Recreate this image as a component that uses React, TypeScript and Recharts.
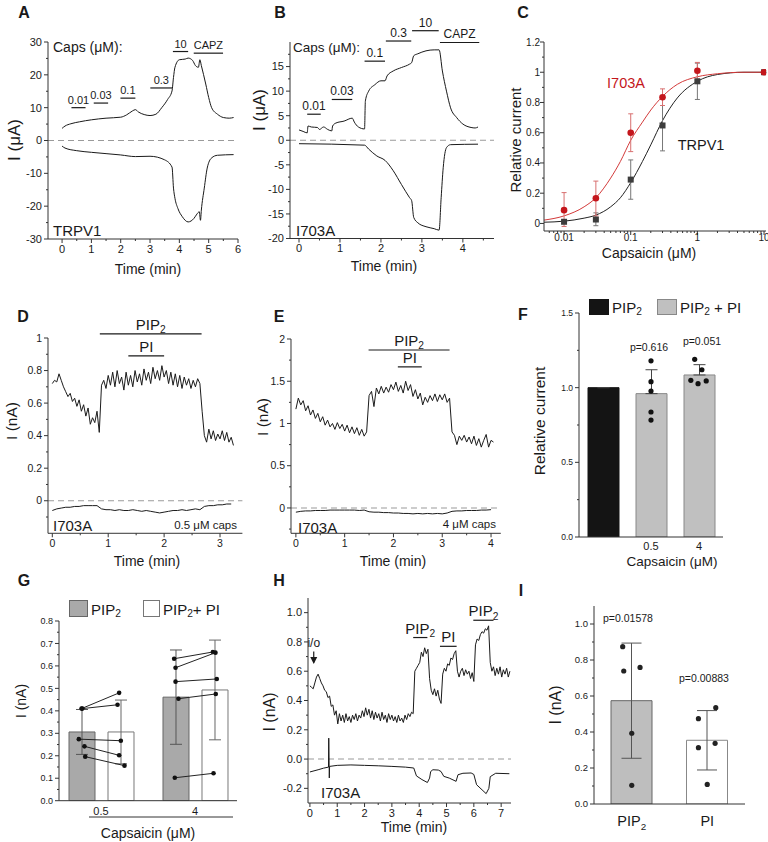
import React from "react";
import {
  Bar,
  Cell,
  ComposedChart,
  ErrorBar,
  Line,
  LineChart,
  ReferenceDot,
  ReferenceLine,
  Scatter,
  XAxis,
  YAxis,
} from "recharts";

const FONT = "'Liberation Sans', Arial, Helvetica, sans-serif";
const INK = "#1a1a1a";
const AXIS = "#333";
const RED = "#c4161c";

// ---------- A: TRPV1, caps dose steps (t min, I µA)
const aUpper: [number, number][] = [
  [0, 3.7], [0.1, 4.4], [0.3, 5.1], [0.6, 5.7], [1.0, 6.3], [1.5, 6.8], [2.0, 7.1], [2.2, 7.8],
  [2.4, 9.0], [2.5, 9.4], [2.6, 8.7], [2.8, 7.9], [3.0, 7.6], [3.2, 8.0], [3.4, 10.0], [3.6, 12.5],
  [3.75, 15.1], [3.8, 19.2], [3.85, 22.3], [4.0, 24.6], [4.2, 24.8], [4.3, 25.1], [4.45, 24.4],
  [4.55, 22.8], [4.65, 22.3], [4.7, 24.6], [4.75, 22.8], [4.9, 17.2], [5.0, 13.1], [5.1, 10.0],
  [5.3, 8.0], [5.5, 7.0], [5.7, 6.8], [5.85, 7.0],
];
const aLower: [number, number][] = [
  [0, -1.7], [0.1, -2.3], [0.5, -3.1], [1.0, -3.6], [1.5, -4.0], [2.0, -4.4], [2.5, -4.9], [3.0, -4.8],
  [3.5, -5.9], [3.75, -8.1], [3.8, -14.5], [3.85, -17.6], [3.95, -20.7], [4.1, -23.2], [4.3, -24.8],
  [4.5, -23.7], [4.6, -22.4], [4.68, -21.7], [4.72, -24.3], [4.75, -21.2], [4.85, -14.5], [4.95, -8.4],
  [5.1, -5.3], [5.3, -4.5], [5.85, -4.3],
];
// label, start, end, level
const aApps: [string, number, number, number][] = [
  ["0.01", 0.32, 0.8, 10.0], ["0.03", 1.08, 1.57, 11.4], ["0.1", 1.99, 2.5, 12.9],
  ["0.3", 3.01, 3.76, 16.0], ["10", 3.78, 4.3, 27.1], ["CAPZ", 4.49, 5.49, 26.6],
];

// ---------- B: I703A
const bUpper: [number, number][] = [
  [0, 2.1], [0.1, 1.8], [0.2, 1.5], [0.22, 2.9], [0.3, 2.7], [0.45, 2.6], [0.5, 2.2], [0.6, 2.7],
  [0.7, 2.2], [0.8, 1.9], [0.82, 2.9], [0.9, 3.5], [1.1, 3.9], [1.3, 4.5], [1.35, 3.7], [1.45, 2.7],
  [1.6, 2.3], [1.62, 8.0], [1.7, 10.0], [1.85, 11.3], [2.0, 12.1], [2.1, 12.1], [2.15, 13.1],
  [2.3, 14.1], [2.5, 14.8], [2.7, 15.5], [2.75, 15.8], [2.8, 17.2], [2.9, 17.6], [3.1, 18.2],
  [3.3, 18.4], [3.42, 18.4], [3.5, 14.1], [3.6, 10.0], [3.7, 6.6], [3.85, 4.6], [4.0, 3.3],
  [4.2, 2.6], [4.3, 2.5], [4.37, 2.7],
];
const bLower: [number, number][] = [
  [0, -0.7], [1.6, -1.0], [1.7, -1.8], [1.9, -3.2], [2.1, -4.1], [2.3, -6.2], [2.5, -9.0], [2.7, -11.7],
  [2.75, -12.3], [2.8, -15.7], [2.9, -16.8], [3.1, -17.6], [3.3, -18.0], [3.42, -18.3], [3.47, -11.7],
  [3.52, -5.6], [3.6, -1.5], [3.7, -0.9], [4.37, -0.8],
];
const bApps: [string, number, number, number][] = [
  ["0.01", 0.2, 0.53, 5.3], ["0.03", 0.8, 1.3, 8.3], ["0.1", 1.6, 2.1, 16.1],
  ["0.3", 2.12, 2.74, 20.2], ["10", 2.76, 3.41, 22.3], ["CAPZ", 3.44, 4.4, 19.9],
];

// ---------- C: dose-response
const cConc = [0.01, 0.03, 0.1, 0.3, 1, 10];
const cMutMean = [0.088, 0.167, 0.6, 0.835, 1.01, 1.0];
const cMutErr: [number, number][] = [[0.108, 0.116], [0.117, 0.113], [0.125, 0.125], [0.055, 0.055], [0.055, 0.055], [0.01, 0.01]];
const cWtMean = [0.011, 0.026, 0.29, 0.648, 0.94, 1.0];
const cWtErr: [number, number][] = [[0.01, 0.01], [0.041, 0.044], [0.13, 0.13], [0.168, 0.192], [0.12, 0.12], [0, 0]];
const cFitX = [0.005, 0.01, 0.02, 0.03, 0.05, 0.07, 0.1, 0.15, 0.2, 0.3, 0.5, 1, 2, 5, 10.7];
const cFitMut = [0.022, 0.05, 0.11, 0.17, 0.3, 0.41, 0.55, 0.67, 0.75, 0.84, 0.92, 0.97, 0.99, 1.0, 1.0];
const cFitWt = [0.008, 0.015, 0.035, 0.055, 0.11, 0.17, 0.27, 0.41, 0.52, 0.68, 0.83, 0.94, 0.985, 1.0, 1.0];

// ---------- D: 0.5 µM caps, sampled every 0.04 / 0.08 min
const D_STEP = 0.04;
const dUpper = [
  0.72, 0.74, 0.73, 0.78, 0.74, 0.7, 0.67, 0.64, 0.66, 0.61, 0.63, 0.58, 0.62, 0.55, 0.59, 0.52, 0.57, 0.47, 0.51, 0.48, 0.55, 0.42,
  0.71, 0.74, 0.69, 0.77, 0.71, 0.79, 0.7, 0.8, 0.72, 0.76, 0.68, 0.79, 0.71, 0.77, 0.7, 0.8, 0.73, 0.78, 0.71, 0.81,
  0.74, 0.79, 0.72, 0.82, 0.75, 0.8, 0.74, 0.83, 0.76, 0.8, 0.72, 0.79, 0.71, 0.78, 0.7, 0.77, 0.69, 0.76, 0.71, 0.75,
  0.69, 0.74, 0.7, 0.75, 0.72,
  0.55, 0.4, 0.36, 0.44, 0.38, 0.43, 0.37, 0.41, 0.38, 0.43, 0.37, 0.42, 0.36, 0.39, 0.34,
];
const D_STEP_LO = 0.08;
const dLower = [
  -0.06, -0.05, -0.045, -0.04, -0.04, -0.035, -0.035, -0.03, -0.03, -0.03, -0.03,
  -0.05, -0.055, -0.055, -0.06, -0.055, -0.06, -0.06, -0.055, -0.06, -0.065, -0.06, -0.065, -0.07, -0.075,
  -0.07, -0.065, -0.06, -0.06, -0.055, -0.06, -0.055, -0.05, -0.055,
  -0.035, -0.03, -0.03, -0.025, -0.025, -0.02, -0.02,
];
const dApps: [string, string, number, number, number][] = [
  ["PIP", "2", 0.85, 2.67, 1.025], ["PI", "", 1.36, 2.0, 0.89],
];

// ---------- E: 4 µM caps
const E_STEP = 0.05;
const eUpper = [
  1.17, 1.3, 1.22, 1.27, 1.15, 1.21, 1.1, 1.16, 1.06, 1.12, 1.02, 1.08, 0.98, 1.04, 0.96, 1.0, 0.93, 1.01, 0.94, 0.99,
  0.91, 0.98, 0.89, 0.96, 0.88, 0.95, 0.86, 0.93, 0.85, 0.9,
  1.33, 1.38, 1.2, 1.42, 1.35, 1.44, 1.36, 1.43, 1.37, 1.46, 1.4, 1.49, 1.38, 1.45, 1.36, 1.5, 1.39, 1.46, 1.32, 1.4,
  1.29, 1.36, 1.22, 1.31, 1.25, 1.33, 1.27, 1.35, 1.26, 1.34, 1.28, 1.35, 1.25, 1.3,
  0.9, 0.86, 0.75, 0.85, 0.8, 0.86, 0.78, 0.84, 0.76, 0.85, 0.74, 0.82, 0.72, 0.8, 0.87, 0.72, 0.8, 0.78,
];
const E_STEP_LO = 0.1;
const eLower = [
  -0.05, -0.04, -0.035, -0.035, -0.03, -0.03, -0.03, -0.025, -0.025, -0.025, -0.025, -0.025, -0.025, -0.03, -0.025,
  -0.045, -0.05, -0.05, -0.055, -0.055, -0.06, -0.06, -0.065, -0.065, -0.07, -0.065, -0.07, -0.065, -0.07, -0.065, -0.07, -0.06,
  -0.04, -0.035, -0.035, -0.03, -0.03, -0.03, -0.025, -0.025, -0.02,
];
const eApps: [string, string, number, number, number][] = [
  ["PIP", "2", 1.49, 3.15, 1.87], ["PI", "", 2.09, 2.58, 1.67],
];

// ---------- F: relative current, PIP2 vs PIP2 + PI
const fCats = ["", "0.5", "4"];
const fMeans = [1.0, 0.96, 1.085];
const fErrUp = [0, 0.16, 0.069];
const fDots05 = [1.18, 1.04, 0.977, 0.837, 0.783];
const fDots05Dx = [0, 0, 0, 0, 0];
const fDots4 = [1.19, 1.12, 1.049, 1.027, 1.045];
const fDots4Dx = [-0.09, 0.06, -0.17, -0.02, 0.15];

// ---------- G: paired PIP2 -> PIP2 + PI
const gCats = ["0.5", "4"];
const gPip2 = [0.306, 0.461];
const gPip2Err = [0.1, 0.21];
const gPip2Pi = [0.306, 0.493];
const gPip2PiErr = [0.142, 0.222];
const gBefore05 = [0.41, 0.41, 0.274, 0.242, 0.196];
const gAfter05 = [0.48, 0.427, 0.267, 0.202, 0.156];
const gBefore4 = [0.632, 0.592, 0.53, 0.454, 0.102];
const gAfter4 = [0.662, 0.659, 0.542, 0.475, 0.122];
const gBeforeDx05 = [-0.207, -0.199, -0.236, -0.176, -0.168];
const gAfterDx05 = [0.193, 0.176, 0.211, 0.193, 0.25];
const gBeforeDx4 = [-0.222, -0.207, -0.207, -0.176, -0.215];
const gAfterDx4 = [0.19, 0.218, 0.232, 0.221, 0.197];

// ---------- H: i/o patch, sequential PIP2 / PI / PIP2
const H_STEP = 0.06;
const hUpper = [
  0.5, 0.49, 0.48, 0.52, 0.56, 0.58, 0.55, 0.52, 0.5, 0.47, 0.46, 0.42, 0.43, 0.36, 0.37, 0.3, 0.33, 0.24, 0.31, 0.26,
  0.3, 0.25, 0.31, 0.26, 0.29, 0.25, 0.3, 0.27, 0.31, 0.26, 0.3, 0.28, 0.33, 0.29, 0.35, 0.3, 0.34, 0.28, 0.33, 0.27,
  0.32, 0.28, 0.31, 0.26, 0.32, 0.27, 0.3, 0.25, 0.31, 0.27, 0.3, 0.26, 0.29, 0.25, 0.3, 0.26, 0.28, 0.25, 0.3, 0.27,
  0.31, 0.29, 0.32, 0.31, 0.6, 0.62, 0.64, 0.66, 0.73, 0.7, 0.76, 0.72, 0.75, 0.55, 0.47, 0.44, 0.48, 0.43, 0.47, 0.41,
  0.38, 0.58, 0.62, 0.6, 0.65, 0.64, 0.69, 0.68, 0.72, 0.74, 0.6, 0.56, 0.6, 0.62, 0.57, 0.61, 0.58, 0.6, 0.55, 0.59,
  0.53, 0.78, 0.82, 0.81, 0.85, 0.87, 0.86, 0.89, 0.88, 0.91, 0.66, 0.6, 0.63, 0.57, 0.62, 0.58, 0.63, 0.56, 0.61, 0.58,
  0.62, 0.56, 0.6,
];
const hLower: [number, number][] = [
  [0, -0.088], [0.3, -0.073], [0.5, -0.062], [0.68, -0.055], [0.69, 0.143], [0.71, -0.129], [0.72, -0.05],
  [1.0, -0.043], [1.5, -0.04], [2.0, -0.043], [2.5, -0.046], [3.0, -0.05], [3.5, -0.055], [3.8, -0.061],
  [3.9, -0.115], [4.1, -0.14], [4.3, -0.16], [4.38, -0.13], [4.42, -0.085], [4.5, -0.073], [4.7, -0.075],
  [4.8, -0.085], [4.9, -0.118], [5.1, -0.13], [5.35, -0.152], [5.42, -0.107], [5.6, -0.097], [5.9, -0.095],
  [6.0, -0.105], [6.1, -0.175], [6.3, -0.21], [6.45, -0.236], [6.55, -0.2], [6.6, -0.12], [6.8, -0.097], [7.3, -0.1],
];
const hApps: [string, string, number, number, number][] = [
  ["PIP", "2", 3.78, 4.3, 0.83], ["PI", "", 4.76, 5.37, 0.77], ["PIP", "2", 5.98, 6.72, 0.948],
];

// ---------- I: PIP2 vs PI
const iCats = ["PIP2", "PI"];
const iMeans = [0.574, 0.354];
const iErr = [0.32, 0.165];
const iDotsPip2 = [0.874, 0.739, 0.759, 0.393, 0.104];
const iDxPip2 = [-0.12, -0.106, 0.11, 0, 0];
const iDotsPi = [0.474, 0.535, 0.313, 0.337, 0.109];
const iDxPi = [-0.117, 0.113, -0.117, 0.104, 0];

// ---------- layout helpers
type Box = { x0: number; y0: number; x1: number; y1: number };
const PL = 60, PT = 40, PR = 20, PB = 50, YW = 50, XH = 30;

function frame(b: Box) {
  return {
    style: { position: "absolute", left: b.x0 - PL, top: b.y0 - PT } as React.CSSProperties,
    width: b.x1 - b.x0 + PL + PR,
    height: b.y1 - b.y0 + PT + PB,
    margin: { top: PT, right: PR, left: PL - YW, bottom: PB - XH },
  };
}

const near = (list: number[], v: number) => list.some((m) => Math.abs(m - v) < 1e-9);

function yTick(major: number[], fmt: (v: number) => string, fs: number, gap = 6) {
  return (p: any) => {
    const v = p.payload.value as number;
    const big = near(major, v);
    return (
      <g>
        <line x1={p.x} x2={p.x - (big ? 4 : 2)} y1={p.y} y2={p.y} stroke={AXIS} />
        {big && (
          <text x={p.x - gap} y={p.y} dy="0.35em" textAnchor="end" fontSize={fs} fontFamily={FONT} fill={INK}>
            {fmt(v)}
          </text>
        )}
      </g>
    );
  };
}

function xTick(major: number[], fmt: (v: number) => string, fs: number, gap = 5) {
  return (p: any) => {
    const v = p.payload.value as number;
    const big = near(major, v);
    return (
      <g>
        <line x1={p.x} x2={p.x} y1={p.y} y2={p.y + (big ? 4 : 2)} stroke={AXIS} />
        {big && (
          <text x={p.x} y={p.y + gap + fs * 0.8} textAnchor="middle" fontSize={fs} fontFamily={FONT} fill={INK}>
            {fmt(v)}
          </text>
        )}
      </g>
    );
  };
}

function catTick(fs: number, dy: number) {
  return (p: any) => {
    const s = String(p.payload.value);
    const sub = s.endsWith("2") && s.startsWith("PIP");
    return (
      <text x={p.x} y={p.y + dy} textAnchor="middle" fontSize={fs} fontFamily={FONT} fill={INK}>
        {sub ? "PIP" : s}
        {sub && <tspan fontSize={fs * 0.68} dy={fs * 0.25}>2</tspan>}
      </text>
    );
  };
}

function ann(text: string, sub = "", fs = 12) {
  return (p: any) => {
    const vb = p.viewBox || {};
    const cx = (vb.x ?? 0) + (vb.width ?? 0) / 2;
    return (
      <text x={cx} y={(vb.y ?? 0) - 4} textAnchor="middle" fontSize={fs} fontFamily={FONT} fill={INK}>
        {text}
        {sub && <tspan fontSize={fs * 0.68} dy={fs * 0.22}>{sub}</tspan>}
      </text>
    );
  };
}

const dot = (r: number, fill: string) => (p: any) => <circle cx={p.cx} cy={p.cy} r={r} fill={fill} />;
const square = (s: number, fill: string) => (p: any) => (
  <rect x={p.cx - s / 2} y={p.cy - s / 2} width={s} height={s} fill={fill} />
);

const pairs = (pts: [number, number][]) => pts.map(([t, v]) => ({ t, v }));
const sampled = (vals: number[], step: number) => vals.map((v, i) => ({ t: +(i * step).toFixed(3), v }));

const axisLine = { stroke: AXIS, strokeWidth: 1 };
const noTicks = { tickSize: 0, tickMargin: 0, tickLine: false, interval: 0 as const };

// ---------- trace panel (A, B, D, E, H)
interface TraceProps {
  box: Box;
  xDomain: [number, number];
  yDomain: [number, number];
  xTicks: number[];
  xMajor: number[];
  yTicks: number[];
  yMajor: number[];
  yFmt: (v: number) => string;
  fs: number;
  upper: { t: number; v: number }[];
  lower: { t: number; v: number }[];
  smooth?: boolean;
  children?: React.ReactNode;
}

function TracePanel(p: TraceProps) {
  const f = frame(p.box);
  return (
    <div style={f.style}>
      <LineChart width={f.width} height={f.height} margin={f.margin}>
        <XAxis
          type="number"
          dataKey="t"
          domain={p.xDomain}
          allowDataOverflow
          ticks={p.xTicks}
          height={XH}
          axisLine={axisLine}
          tick={xTick(p.xMajor, (v) => String(v), p.fs)}
          {...noTicks}
        />
        <YAxis
          type="number"
          domain={p.yDomain}
          allowDataOverflow
          ticks={p.yTicks}
          width={YW}
          axisLine={axisLine}
          tick={yTick(p.yMajor, p.yFmt, p.fs)}
          {...noTicks}
        />
        <ReferenceLine y={0} stroke="#9a9a9a" strokeDasharray="6 4" strokeWidth={1.1} />
        <Line data={p.upper} dataKey="v" type={p.smooth ? "monotone" : "linear"} dot={false} stroke={INK} strokeWidth={1} isAnimationActive={false} />
        <Line data={p.lower} dataKey="v" type={p.smooth ? "monotone" : "linear"} dot={false} stroke={INK} strokeWidth={1} isAnimationActive={false} />
        {p.children}
      </LineChart>
    </div>
  );
}

function appLines(apps: [string, number, number, number][], fs: number) {
  return apps.map(([lab, a, b, y], i) => (
    <ReferenceLine
      key={"ap" + i}
      segment={[{ x: a, y }, { x: b, y }]}
      stroke={INK}
      strokeWidth={1.2}
      ifOverflow="visible"
      label={ann(lab, "", fs)}
    />
  ));
}

function lipidLines(apps: [string, string, number, number, number][], fs: number) {
  return apps.map(([lab, sub, a, b, y], i) => (
    <ReferenceLine
      key={"lp" + i}
      segment={[{ x: a, y }, { x: b, y }]}
      stroke={INK}
      strokeWidth={1.2}
      ifOverflow="visible"
      label={ann(lab, sub, fs)}
    />
  ));
}

// ---------- C
function DosePanel() {
  const f = frame({ x0: 544, y0: 42.3, x1: 766, y1: 231.3 });
  const mut = cConc.map((x, i) => ({ x, y: cMutMean[i], err: cMutErr[i] }));
  const wt = cConc.map((x, i) => ({ x, y: cWtMean[i], err: cWtErr[i] }));
  const fitMut = cFitX.map((x, i) => ({ x, y: cFitMut[i] }));
  const fitWt = cFitX.map((x, i) => ({ x, y: cFitWt[i] }));
  const xt = [0.006, 0.007, 0.008, 0.009, 0.01, 0.02, 0.03, 0.04, 0.05, 0.06, 0.07, 0.08, 0.09, 0.1, 0.2, 0.3, 0.4, 0.5, 0.6, 0.7, 0.8, 0.9, 1, 2, 3, 4, 5, 6, 7, 8, 9, 10];
  const yt = [0, 0.1, 0.2, 0.3, 0.4, 0.5, 0.6, 0.7, 0.8, 0.9, 1, 1.1, 1.2];
  return (
    <div style={f.style}>
      <ComposedChart width={f.width} height={f.height} margin={f.margin}>
        <XAxis
          type="number"
          dataKey="x"
          scale="log"
          domain={[0.005, 10.7]}
          allowDataOverflow
          ticks={xt}
          height={XH}
          axisLine={axisLine}
          tick={xTick([0.01, 0.1, 1, 10], (v) => String(v), 10, 2)}
          {...noTicks}
        />
        <YAxis
          type="number"
          dataKey="y"
          domain={[-0.05, 1.2]}
          allowDataOverflow
          ticks={yt}
          width={YW}
          axisLine={axisLine}
          tick={yTick([0, 0.2, 0.4, 0.6, 0.8, 1, 1.2], (v) => String(v), 10, 4)}
          {...noTicks}
        />
        <Line data={fitWt} dataKey="y" type="monotone" dot={false} stroke="#222" strokeWidth={1} isAnimationActive={false} />
        <Line data={fitMut} dataKey="y" type="monotone" dot={false} stroke="#d33a3a" strokeWidth={1} isAnimationActive={false} />
        <Scatter data={wt} shape={square(6, "#3d3d3d")} isAnimationActive={false}>
          <ErrorBar dataKey="err" direction="y" width={2.5} stroke="#777" strokeWidth={1} />
        </Scatter>
        <Scatter data={mut} shape={dot(3.3, RED)} isAnimationActive={false}>
          <ErrorBar dataKey="err" direction="y" width={2.5} stroke="#d87070" strokeWidth={1} />
        </Scatter>
      </ComposedChart>
    </div>
  );
}

// ---------- F
function RelBarPanel() {
  const f = frame({ x0: 579, y0: 313, x1: 723, y1: 537 });
  const rows = fCats.map((cat, i) => ({ cat, v: fMeans[i], err: [0, fErrUp[i]] }));
  const d05 = fDots05.map((y, i) => ({ x: 1.5 + fDots05Dx[i], y }));
  const d4 = fDots4.map((y, i) => ({ x: 2.5 + fDots4Dx[i], y }));
  return (
    <div style={f.style}>
      <ComposedChart width={f.width} height={f.height} margin={f.margin} data={rows}>
        <XAxis xAxisId="c" dataKey="cat" type="category" height={XH} axisLine={axisLine} tick={catTick(11, 13)} {...noTicks} />
        <XAxis xAxisId="n" dataKey="x" type="number" domain={[0, 3]} allowDataOverflow hide />
        <YAxis
          dataKey="y"
          type="number"
          domain={[0, 1.5]}
          allowDataOverflow
          ticks={[0, 0.25, 0.5, 0.75, 1, 1.25, 1.5]}
          width={YW}
          axisLine={axisLine}
          tick={yTick([0, 0.5, 1, 1.5], (v) => v.toFixed(1), 8.5)}
          {...noTicks}
        />
        <Bar xAxisId="c" dataKey="v" barSize={31} stroke="#888" strokeWidth={1} isAnimationActive={false}>
          {rows.map((_, i) => (
            <Cell key={i} fill={i === 0 ? "#141414" : "#c0c0c0"} stroke={i === 0 ? "#141414" : "#888"} />
          ))}
          <ErrorBar dataKey="err" direction="y" width={6} stroke="#444" strokeWidth={1} />
        </Bar>
        <Scatter xAxisId="n" data={d05} shape={dot(2.6, "#111")} isAnimationActive={false} />
        <Scatter xAxisId="n" data={d4} shape={dot(2.6, "#111")} isAnimationActive={false} />
      </ComposedChart>
    </div>
  );
}

// ---------- G
function PairedPanel() {
  const f = frame({ x0: 59, y0: 621, x1: 237, y1: 800.7 });
  const rows = gCats.map((cat, i) => ({ cat, a: gPip2[i], ae: gPip2Err[i], b: gPip2Pi[i], be: gPip2PiErr[i] }));
  const links = [
    ...gBefore05.map((y, i) => [{ x: 0.5 + gBeforeDx05[i], y }, { x: 0.5 + gAfterDx05[i], y: gAfter05[i] }]),
    ...gBefore4.map((y, i) => [{ x: 1.5 + gBeforeDx4[i], y }, { x: 1.5 + gAfterDx4[i], y: gAfter4[i] }]),
  ];
  const yt = [0, 0.05, 0.1, 0.15, 0.2, 0.25, 0.3, 0.35, 0.4, 0.45, 0.5, 0.55, 0.6, 0.65, 0.7, 0.75, 0.8];
  const pad = { left: -5, right: -5 };
  return (
    <div style={f.style}>
      <ComposedChart width={f.width} height={f.height} margin={f.margin} data={rows} barGap={13}>
        <XAxis xAxisId="c" dataKey="cat" type="category" padding={pad} height={XH} axisLine={axisLine} tick={catTick(11, 14)} {...noTicks} />
        <XAxis xAxisId="n" dataKey="x" type="number" padding={pad} domain={[0, 2]} allowDataOverflow hide />
        <YAxis
          dataKey="y"
          type="number"
          domain={[0, 0.8]}
          allowDataOverflow
          ticks={yt}
          width={YW}
          axisLine={axisLine}
          tick={yTick([0, 0.1, 0.2, 0.3, 0.4, 0.5, 0.6, 0.7, 0.8], (v) => v.toFixed(1), 9)}
          {...noTicks}
        />
        <Bar xAxisId="c" dataKey="a" barSize={26} fill="#a9a9a9" stroke="#666" strokeWidth={1} isAnimationActive={false}>
          <ErrorBar dataKey="ae" direction="y" width={6} stroke="#555" strokeWidth={1} />
        </Bar>
        <Bar xAxisId="c" dataKey="b" barSize={26} fill="#ffffff" stroke="#777" strokeWidth={1} isAnimationActive={false}>
          <ErrorBar dataKey="be" direction="y" width={6} stroke="#666" strokeWidth={1} />
        </Bar>
        {links.map((pts, i) => (
          <Scatter
            key={i}
            xAxisId="n"
            data={pts}
            line={{ stroke: "#222", strokeWidth: 1 }}
            shape={dot(2.3, "#111")}
            isAnimationActive={false}
          />
        ))}
      </ComposedChart>
    </div>
  );
}

// ---------- I
function LipidBarPanel() {
  const f = frame({ x0: 594, y0: 606, x1: 745, y1: 804 });
  const rows = iCats.map((cat, i) => ({ cat, v: iMeans[i], err: iErr[i] }));
  const pts = [
    ...iDotsPip2.map((y, i) => ({ x: 0.5 + iDxPip2[i], y })),
    ...iDotsPi.map((y, i) => ({ x: 1.5 + iDxPi[i], y })),
  ];
  return (
    <div style={f.style}>
      <ComposedChart width={f.width} height={f.height} margin={f.margin} data={rows}>
        <XAxis xAxisId="c" dataKey="cat" type="category" height={XH} axisLine={axisLine} tick={catTick(14.5, 22)} {...noTicks} />
        <XAxis xAxisId="n" dataKey="x" type="number" domain={[0, 2]} allowDataOverflow hide />
        <YAxis
          dataKey="y"
          type="number"
          domain={[0, 1.1]}
          allowDataOverflow
          ticks={[0, 0.1, 0.2, 0.3, 0.4, 0.5, 0.6, 0.7, 0.8, 0.9, 1.0]}
          width={YW}
          axisLine={axisLine}
          tick={yTick([0, 0.2, 0.4, 0.6, 0.8, 1.0], (v) => v.toFixed(1), 9.5)}
          {...noTicks}
        />
        <Bar xAxisId="c" dataKey="v" barSize={41} strokeWidth={1} isAnimationActive={false}>
          {rows.map((_, i) => (
            <Cell key={i} fill={i === 0 ? "#bebebe" : "#ffffff"} stroke={i === 0 ? "#666" : "#888"} />
          ))}
          <ErrorBar dataKey="err" direction="y" width={10} stroke="#555" strokeWidth={1} />
        </Bar>
        <Scatter xAxisId="n" data={pts} shape={dot(2.6, "#222")} isAnimationActive={false} />
      </ComposedChart>
    </div>
  );
}

// ---------- text layer
function T(props: { x: number; y: number; fs: number; children: React.ReactNode; anchor?: "start" | "middle" | "end"; bold?: boolean; fill?: string; rot?: boolean }) {
  const { x, y, fs, anchor = "middle", bold, fill = INK, rot } = props;
  return (
    <text
      x={rot ? 0 : x}
      y={rot ? 0 : y}
      transform={rot ? `translate(${x},${y}) rotate(-90)` : undefined}
      textAnchor={anchor}
      dominantBaseline="central"
      fontSize={fs}
      fontWeight={bold ? "bold" : "normal"}
      fontFamily={FONT}
      fill={fill}
    >
      {props.children}
    </text>
  );
}

const Pip2 = ({ fs, tail = "" }: { fs: number; tail?: string }) => (
  <>
    PIP
    <tspan fontSize={fs * 0.68} dy={fs * 0.28}>2</tspan>
    {tail && <tspan dy={-fs * 0.28}>{tail}</tspan>}
  </>
);

function TextLayer() {
  return (
    <svg width={768} height={842} style={{ position: "absolute", left: 0, top: 0, pointerEvents: "none" }}>
      {/* panel letters */}
      <T x={24} y={12} fs={16} bold>A</T>
      <T x={280} y={12} fs={16} bold>B</T>
      <T x={523} y={12} fs={16} bold>C</T>
      <T x={23} y={316} fs={16} bold>D</T>
      <T x={279} y={316} fs={16} bold>E</T>
      <T x={523} y={314} fs={16} bold>F</T>
      <T x={24} y={580} fs={16} bold>G</T>
      <T x={279} y={580} fs={16} bold>H</T>
      <T x={521} y={590} fs={16} bold>I</T>

      {/* axis titles */}
      <T x={14} y={140} fs={17} rot>I (μA)</T>
      <T x={259} y={110} fs={17} rot>I (μA)</T>
      <T x={515} y={140} fs={15} rot>Relative current</T>
      <T x={11} y={421} fs={15.5} rot>I (nA)</T>
      <T x={262} y={417} fs={15.5} rot>I (nA)</T>
      <T x={539} y={421} fs={15.5} rot>Relative current</T>
      <T x={21} y={701} fs={14} rot>I (nA)</T>
      <T x={269} y={712} fs={16} rot>I (nA)</T>
      <T x={555} y={705} fs={16} rot>I (nA)</T>

      <T x={148} y={269} fs={14}>Time (min)</T>
      <T x={384} y={266} fs={14}>Time (min)</T>
      <T x={649} y={253} fs={14}>Capsaicin (μM)</T>
      <T x={147} y={561} fs={14}>Time (min)</T>
      <T x={393} y={561} fs={14}>Time (min)</T>
      <T x={672} y={561} fs={13.5}>Capsaicin (μM)</T>
      <T x={148} y={833} fs={14}>Capsaicin (μM)</T>
      <T x={414} y={827} fs={14}>Time (min)</T>
      <line x1={89} x2={233} y1={817} y2={817} stroke={AXIS} strokeWidth={1} />

      {/* in-panel labels */}
      <T x={53} y={47} fs={14} anchor="start">Caps (μM):</T>
      <T x={293} y={47} fs={13.5} anchor="start">Caps (μM):</T>
      <T x={53} y={230} fs={15} anchor="start">TRPV1</T>
      <T x={296} y={230} fs={15} anchor="start">I703A</T>
      <T x={626} y={83} fs={14.5} fill={RED}>I703A</T>
      <T x={701} y={145} fs={14.5}>TRPV1</T>
      <T x={53} y={525} fs={15} anchor="start">I703A</T>
      <T x={237} y={525} fs={11.5} anchor="end">0.5 μM caps</T>
      <T x={298} y={527} fs={15} anchor="start">I703A</T>
      <T x={496} y={524} fs={11.5} anchor="end">4 μM caps</T>
      <T x={321} y={792} fs={15} anchor="start">I703A</T>

      {/* p values */}
      <T x={649} y={347} fs={10.5}>p=0.616</T>
      <T x={702} y={341} fs={10.5}>p=0.051</T>
      <T x={628} y={618} fs={10.5}>p=0.01578</T>
      <T x={704} y={678} fs={10.5}>p=0.00883</T>

      {/* legend F */}
      <rect x={589} y={299} width={20} height={16} fill="#141414" />
      <T x={612} y={307} fs={15} anchor="start"><Pip2 fs={15} /></T>
      <rect x={657.5} y={299.5} width={19} height={15} fill="#c0c0c0" stroke="#888" />
      <T x={680} y={307} fs={15} anchor="start"><Pip2 fs={15} tail=" + PI" /></T>

      {/* legend G */}
      <rect x={69.5} y={600.5} width={18} height={16} fill="#a9a9a9" stroke="#666" />
      <T x={91} y={609} fs={15} anchor="start"><Pip2 fs={15} /></T>
      <rect x={143.5} y={600.5} width={16} height={16} fill="#fff" stroke="#777" />
      <T x={163} y={609} fs={15} anchor="start"><Pip2 fs={15} tail="+ PI" /></T>
    </svg>
  );
}

export default function App() {
  const arrowHead = (p: any) => (
    <path d={`M${p.cx - 3.5},${p.cy - 7} L${p.cx + 3.5},${p.cy - 7} L${p.cx},${p.cy} Z`} fill={INK} />
  );
  return (
    <div style={{ position: "absolute", left: 0, top: 0, width: 768, height: 842, overflow: "hidden", background: "#fff" }}>
      <TracePanel
        box={{ x0: 48, y0: 42, x1: 238, y1: 239 }}
        xDomain={[-0.48, 6]}
        yDomain={[-30, 30]}
        xTicks={[0, 0.5, 1, 1.5, 2, 2.5, 3, 3.5, 4, 4.5, 5, 5.5, 6]}
        xMajor={[0, 1, 2, 3, 4, 5, 6]}
        yTicks={[-30, -25, -20, -15, -10, -5, 0, 5, 10, 15, 20, 25, 30]}
        yMajor={[-30, -20, -10, 0, 10, 20, 30]}
        yFmt={(v) => String(v)}
        fs={11}
        upper={pairs(aUpper)}
        lower={pairs(aLower)}
        smooth
      >
        {appLines(aApps, 11)}
      </TracePanel>

      <TracePanel
        box={{ x0: 290, y0: 41.5, x1: 494, y1: 238 }}
        xDomain={[-0.22, 4.76]}
        yDomain={[-20, 20]}
        xTicks={[0, 0.5, 1, 1.5, 2, 2.5, 3, 3.5, 4, 4.5]}
        xMajor={[0, 1, 2, 3, 4]}
        yTicks={[-20, -17.5, -15, -12.5, -10, -7.5, -5, -2.5, 0, 2.5, 5, 7.5, 10, 12.5, 15, 17.5]}
        yMajor={[-20, -15, -10, -5, 0, 5, 10, 15]}
        yFmt={(v) => String(v)}
        fs={11}
        upper={pairs(bUpper)}
        lower={pairs(bLower)}
        smooth
      >
        {appLines(bApps, 12)}
      </TracePanel>

      <DosePanel />

      <TracePanel
        box={{ x0: 48, y0: 338, x1: 242.4, y1: 533.3 }}
        xDomain={[-0.077, 3.4]}
        yDomain={[-0.2, 1]}
        xTicks={[0, 0.5, 1, 1.5, 2, 2.5, 3]}
        xMajor={[0, 1, 2, 3]}
        yTicks={[-0.1, 0, 0.1, 0.2, 0.3, 0.4, 0.5, 0.6, 0.7, 0.8, 0.9, 1]}
        yMajor={[0, 0.2, 0.4, 0.6, 0.8, 1]}
        yFmt={(v) => String(v)}
        fs={10.5}
        upper={sampled(dUpper, D_STEP)}
        lower={sampled(dLower, D_STEP_LO)}
      >
        {lipidLines(dApps, 15)}
      </TracePanel>

      <TracePanel
        box={{ x0: 291, y0: 339, x1: 500.8, y1: 533.3 }}
        xDomain={[-0.1, 4.2]}
        yDomain={[-0.3, 2]}
        xTicks={[0, 0.5, 1, 1.5, 2, 2.5, 3, 3.5, 4]}
        xMajor={[0, 1, 2, 3, 4]}
        yTicks={[-0.25, 0, 0.25, 0.5, 0.75, 1, 1.25, 1.5, 1.75, 2]}
        yMajor={[0, 0.5, 1, 1.5, 2]}
        yFmt={(v) => String(v)}
        fs={10.5}
        upper={sampled(eUpper, E_STEP)}
        lower={sampled(eLower, E_STEP_LO)}
      >
        {lipidLines(eApps, 15)}
      </TracePanel>

      <RelBarPanel />
      <PairedPanel />

      <TracePanel
        box={{ x0: 308, y0: 598, x1: 511, y1: 803 }}
        xDomain={[-0.07, 7.36]}
        yDomain={[-0.3, 1.1]}
        xTicks={[0, 0.5, 1, 1.5, 2, 2.5, 3, 3.5, 4, 4.5, 5, 5.5, 6, 6.5, 7]}
        xMajor={[0, 1, 2, 3, 4, 5, 6, 7]}
        yTicks={[-0.2, -0.1, 0, 0.1, 0.2, 0.3, 0.4, 0.5, 0.6, 0.7, 0.8, 0.9, 1.0]}
        yMajor={[-0.2, 0, 0.2, 0.4, 0.6, 0.8, 1.0]}
        yFmt={(v) => v.toFixed(1)}
        fs={11}
        upper={sampled(hUpper, H_STEP)}
        lower={pairs(hLower)}
      >
        {lipidLines(hApps, 15)}
        <ReferenceLine segment={[{ x: 0.14, y: 0.735 }, { x: 0.14, y: 0.66 }]} stroke={INK} strokeWidth={1.2} ifOverflow="visible" label={ann("i/o", "", 12)} />
        <ReferenceDot x={0.14} y={0.65} r={0} shape={arrowHead} ifOverflow="visible" />
      </TracePanel>

      <LipidBarPanel />
      <TextLayer />
    </div>
  );
}
